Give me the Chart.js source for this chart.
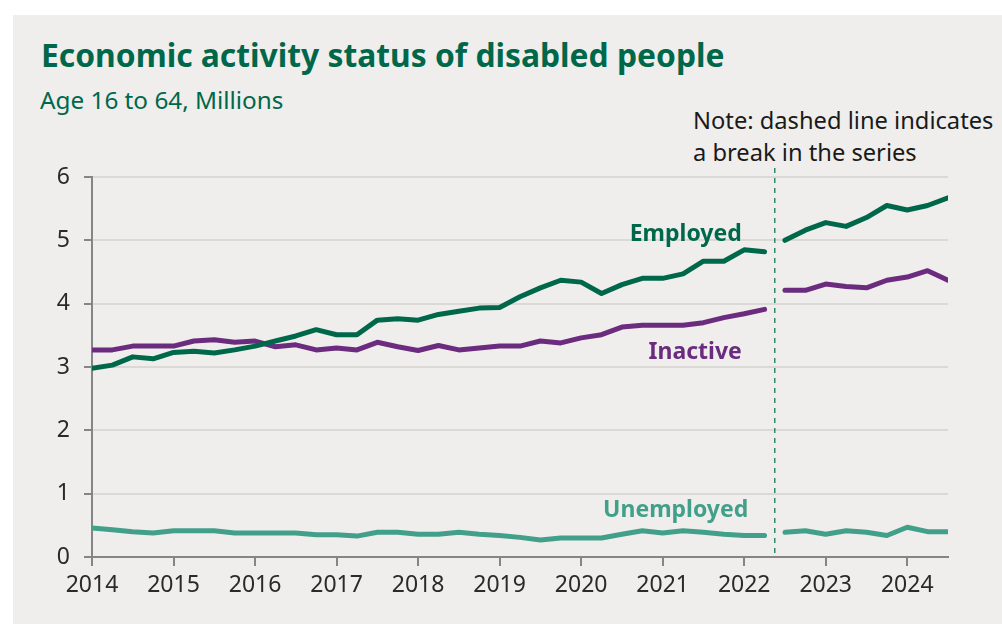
<!DOCTYPE html>
<html>
<head>
<meta charset="utf-8">
<script src="https://cdn.jsdelivr.net/npm/chart.js@4/dist/chart.umd.min.js"></script>
<style>
  body { margin: 0; background: #fff; font-family: "Noto Sans", sans-serif; }
  #panel { position: absolute; left: 13px; top: 15px; width: 989px; height: 609px; background: #efeeec; }
  #title { position: absolute; left: 41px; top: 33px; font-size: 31.8px; font-weight: 700; color: #00684a; white-space: nowrap; }
  #sub { position: absolute; left: 40px; top: 83px; font-size: 24.3px; color: #00684a; white-space: nowrap; }
  #note { position: absolute; left: 693px; top: 104px; font-size: 23.7px; line-height: 32px; color: #1a1a1a; white-space: nowrap; }
  canvas { position: absolute; left: 0; top: 0; }
</style>
</head>
<body>
<div id="panel"></div>
<div id="title">Economic activity status of disabled people</div>
<div id="sub">Age 16 to 64, Millions</div>
<div id="note">Note: dashed line indicates<br>a break in the series</div>
<canvas id="c" width="1002" height="624"></canvas>
<script>
// quarters, 2014 Q1 .. 2024 Q3
const quarters = [
  2014, 2014.25, 2014.5, 2014.75, 2015, 2015.25, 2015.5, 2015.75,
  2016, 2016.25, 2016.5, 2016.75, 2017, 2017.25, 2017.5, 2017.75,
  2018, 2018.25, 2018.5, 2018.75, 2019, 2019.25, 2019.5, 2019.75,
  2020, 2020.25, 2020.5, 2020.75, 2021, 2021.25, 2021.5, 2021.75,
  2022, 2022.25, 2022.5, 2022.75, 2023, 2023.25, 2023.5, 2023.75,
  2024, 2024.25, 2024.5
];
const breakAt = 2022.375; // series break (dashed line)

const employed = [
  2.98, 3.03, 3.16, 3.13, 3.23, 3.25, 3.22, 3.27,
  3.33, 3.41, 3.49, 3.59, 3.51, 3.51, 3.74, 3.76,
  3.74, 3.83, 3.88, 3.93, 3.94, 4.11, 4.25, 4.37,
  4.34, 4.16, 4.30, 4.40, 4.40, 4.47, 4.67, 4.67,
  4.85, 4.82, 5.00, 5.16, 5.28, 5.22, 5.36, 5.55,
  5.48, 5.55, 5.67
];
const inactive = [
  3.27, 3.27, 3.33, 3.33, 3.33, 3.41, 3.43, 3.39,
  3.41, 3.32, 3.35, 3.27, 3.30, 3.27, 3.39, 3.32,
  3.26, 3.34, 3.27, 3.30, 3.33, 3.33, 3.41, 3.38,
  3.46, 3.51, 3.63, 3.66, 3.66, 3.66, 3.70, 3.78,
  3.84, 3.91, 4.21, 4.21, 4.31, 4.27, 4.25, 4.37,
  4.42, 4.52, 4.37
];
const unemployed = [
  0.46, 0.43, 0.40, 0.38, 0.415, 0.415, 0.415, 0.38,
  0.38, 0.38, 0.38, 0.35, 0.35, 0.33, 0.39, 0.39,
  0.36, 0.36, 0.39, 0.36, 0.34, 0.31, 0.27, 0.30,
  0.30, 0.30, 0.36, 0.415, 0.38, 0.415, 0.39, 0.36,
  0.34, 0.34, 0.39, 0.415, 0.36, 0.415, 0.39, 0.34,
  0.47, 0.40, 0.40
];

const yearTicks = [2014, 2015, 2016, 2017, 2018, 2019, 2020, 2021, 2022, 2023, 2024];
const yTicks = [0, 1, 2, 3, 4, 5, 6];

const series = [
  { name: "Employed", values: employed, color: "#00684a", label: [2021.97, 4.99] },
  { name: "Inactive", values: inactive, color: "#6b2c7f", label: [2021.97, 3.13] },
  { name: "Unemployed", values: unemployed, color: "#42a08a", label: [2022.05, 0.63] }
];

const datasets = [];
series.forEach(s => {
  const pts = quarters.map((q, i) => ({ x: q, y: s.values[i] }));
  [pts.filter(p => p.x < breakAt), pts.filter(p => p.x > breakAt)].forEach(part => {
    datasets.push({
      data: part,
      borderColor: s.color,
      borderWidth: 5,
      pointRadius: 0,
      borderJoinStyle: "round",
      borderCapStyle: "round",
      tension: 0
    });
  });
});

const extras = {
  id: "extras",
  beforeDatasetsDraw(chart) {
    const { ctx, chartArea, scales } = chart;
    const x = scales.x.getPixelForValue(breakAt);
    ctx.save();
    ctx.strokeStyle = "#2f8a6c";
    ctx.lineWidth = 1.5;
    ctx.setLineDash([5, 5]);
    ctx.beginPath();
    ctx.moveTo(x, chartArea.top - 9);
    ctx.lineTo(x, chartArea.bottom - 2);
    ctx.stroke();
    ctx.restore();
  },
  afterDatasetsDraw(chart) {
    const { ctx, scales } = chart;
    ctx.save();
    ctx.font = "bold 23px 'Noto Sans'";
    ctx.textAlign = "right";
    ctx.textBaseline = "alphabetic";
    series.forEach(s => {
      ctx.fillStyle = s.color;
      ctx.fillText(s.name, scales.x.getPixelForValue(s.label[0]), scales.y.getPixelForValue(s.label[1]));
    });
    ctx.restore();
  }
};

new Chart(document.getElementById("c"), {
  type: "line",
  data: { datasets },
  plugins: [extras],
  options: {
    responsive: false,
    animation: false,
    layout: { padding: { top: 177, right: 54, bottom: 0, left: 0 } },
    plugins: { legend: { display: false }, tooltip: { enabled: false } },
    scales: {
      x: {
        type: "linear",
        min: 2014,
        max: 2024.5,
        afterBuildTicks: s => { s.ticks = yearTicks.map(v => ({ value: v })); },
        afterFit: s => { s.height = 67; },
        grid: { drawOnChartArea: false, tickColor: "#858585", tickLength: 9, lineWidth: 2 },
        border: { color: "#858585", width: 2 },
        ticks: { color: "#2a2a2a", font: { family: "Noto Sans", size: 23 }, padding: 6, maxRotation: 0, callback: v => String(v) }
      },
      y: {
        min: 0,
        max: 6,
        afterBuildTicks: s => { s.ticks = yTicks.map(v => ({ value: v })); },
        afterFit: s => { s.width = 92; },
        grid: { color: "#dad9d6", lineWidth: 2, tickColor: "#858585", tickLength: 8 },
        border: { color: "#858585", width: 2 },
        ticks: { color: "#2a2a2a", font: { family: "Noto Sans", size: 23 }, padding: 14 }
      }
    }
  }
});
</script>
</body>
</html>
